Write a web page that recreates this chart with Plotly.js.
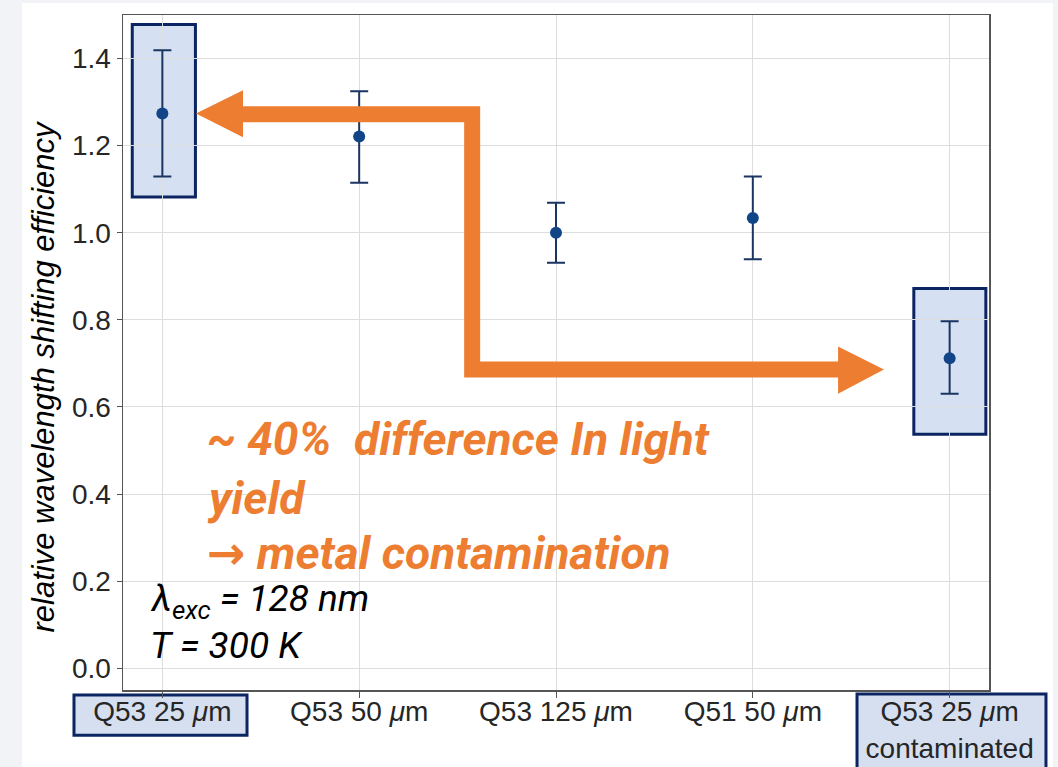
<!DOCTYPE html>
<html>
<head>
<meta charset="utf-8">
<script src="https://cdn.plot.ly/plotly-3.0.1.min.js"></script>
<style>
  html, body { margin: 0; padding: 0; background: #f1f3f6; width: 1058px; height: 767px; overflow: hidden; }
  #chart { position: absolute; left: 22px; top: 3px; width: 1031px; height: 764px; background: #ffffff; }
</style>
</head>
<body>
<div id="chart"></div>
<script>
// Samples and their measured relative WLS efficiency
const categories = ['Q53 25 μm', 'Q53 50 μm', 'Q53 125 μm', 'Q51 50 μm', 'Q53 25 μm contaminated'];
const tickLabels = ['Q53 25 <i>μ</i>m', 'Q53 50 <i>μ</i>m', 'Q53 125 <i>μ</i>m', 'Q51 50 <i>μ</i>m', 'Q53 25 <i>μ</i>m<br>contaminated'];
const efficiency = [1.274, 1.221, 1.000, 1.034, 0.712];
const upperBound = [1.419, 1.325, 1.069, 1.129, 0.797];
const lowerBound = [1.129, 1.115, 0.931, 0.939, 0.630];
const yTicks = [0.0, 0.2, 0.4, 0.6, 0.8, 1.0, 1.2, 1.4];

const errPlus = upperBound.map((u, i) => u - efficiency[i]);
const errMinus = lowerBound.map((l, i) => efficiency[i] - l);

const navy = '#0b2462';
const boxFill = 'rgba(190,208,235,0.65)';
const orange = '#ED7D31';

const trace = {
  type: 'scatter',
  mode: 'markers',
  x: categories,
  y: efficiency,
  marker: { color: '#114588', size: 12 },
  error_y: {
    type: 'data', symmetric: false,
    array: errPlus, arrayminus: errMinus,
    color: '#1b3563', thickness: 2, width: 9
  },
  hoverinfo: 'x+y'
};

const shapes = [
  // highlight boxes around the reference and contaminated samples
  { type: 'rect', xref: 'x', yref: 'y', x0: -0.153, x1: 0.168, y0: 1.082, y1: 1.478,
    fillcolor: boxFill, line: { color: navy, width: 3 }, layer: 'below' },
  { type: 'rect', xref: 'x', yref: 'y', x0: 3.818, x1: 4.184, y0: 0.537, y1: 0.872,
    fillcolor: boxFill, line: { color: navy, width: 3 }, layer: 'below' },
  // boxes behind the matching tick labels
  { type: 'rect', xref: 'paper', yref: 'paper', x0: -0.0566, x1: 0.1432, y0: -0.0670, y1: -0.0074,
    fillcolor: '#d5dff0', line: { color: navy, width: 3 }, layer: 'below' },
  { type: 'rect', xref: 'paper', yref: 'paper', x0: 0.8476, x1: 1.0658, y0: -0.13, y1: -0.0060,
    fillcolor: '#d5dff0', line: { color: navy, width: 3 }, layer: 'below' },
  // orange connector arrow
  { type: 'path', xref: 'x', yref: 'y', layer: 'above',
    path: 'M 0.40 1.272 L 1.574 1.272 L 1.574 0.686 L 3.445 0.686',
    line: { color: orange, width: 16 } },
  { type: 'path', xref: 'x', yref: 'y', layer: 'above',
    path: 'M 0.1707 1.274 L 0.4096 1.327 L 0.4096 1.219 Z',
    fillcolor: orange, line: { width: 0 } },
  { type: 'path', xref: 'x', yref: 'y', layer: 'above',
    path: 'M 3.666 0.686 L 3.433 0.739 L 3.433 0.630 Z',
    fillcolor: orange, line: { width: 0 } }
];

const orangeFont = { family: 'Roboto, sans-serif', size: 46, color: orange, style: 'italic', weight: 700 };
const noteFont = { family: 'Roboto, Arial, sans-serif', size: 37, color: '#000000', style: 'italic' };

const annotations = [
  { xref: 'paper', yref: 'paper', x: 0.0947, y: 0.372, xanchor: 'left', yanchor: 'middle',
    text: '~ 40%&nbsp; difference In light', showarrow: false, font: orangeFont },
  { xref: 'paper', yref: 'paper', x: 0.0947, y: 0.284, xanchor: 'left', yanchor: 'middle',
    text: 'yield', showarrow: false, font: orangeFont },
  { xref: 'paper', yref: 'paper', x: 0.0947, y: 0.2024, xanchor: 'left', yanchor: 'middle',
    text: '<span style="font-family:DejaVu Sans;font-style:normal">→</span> metal contamination',
    showarrow: false, font: orangeFont },
  { xref: 'paper', yref: 'paper', x: 0.0289, y: 0.1324, xanchor: 'left', yanchor: 'middle',
    text: 'λ<sub>exc</sub> = 128 nm', showarrow: false, font: noteFont },
  { xref: 'paper', yref: 'paper', x: 0.0289, y: 0.0655, xanchor: 'left', yanchor: 'middle',
    text: 'T = 300 K', showarrow: false, font: noteFont },
  // y-axis label, set slightly below the axis centre
  { xref: 'paper', yref: 'paper', x: -0.092, y: 0.465, xanchor: 'center', yanchor: 'middle',
    textangle: -90, text: 'relative wavelength shifting efficiency', showarrow: false,
    font: { family: 'Liberation Sans, Arial, sans-serif', size: 31, color: '#000000', style: 'italic' } }
];

const layout = {
  width: 1031, height: 764,
  margin: { l: 101, r: 64, t: 12, b: 77 },
  paper_bgcolor: '#ffffff',
  plot_bgcolor: '#ffffff',
  showlegend: false,
  font: { family: 'Liberation Sans, Arial, sans-serif', color: '#262626' },
  xaxis: {
    type: 'category',
    range: [-0.2, 4.2],
    tickvals: categories, ticktext: tickLabels,
    tickfont: { size: 28, color: '#262626' },
    ticks: 'outside', ticklen: 6, tickcolor: '#555555',
    ticklabelstandoff: -10,
    showline: true, linecolor: '#555555', linewidth: 1.5, mirror: true,
    showgrid: true, gridcolor: '#dddddd', gridwidth: 1,
    zeroline: false, fixedrange: true
  },
  yaxis: {
    range: [-0.05, 1.5],
    tickvals: yTicks, ticktext: yTicks.map(v => v.toFixed(1)),
    tickfont: { size: 28, color: '#262626' },
    ticks: 'outside', ticklen: 5, tickcolor: '#555555',
    showline: true, linecolor: '#555555', linewidth: 1.5, mirror: true,
    showgrid: true, gridcolor: '#dddddd', gridwidth: 1,
    zeroline: false, fixedrange: true
  },
  shapes: shapes,
  annotations: annotations
};

Plotly.newPlot('chart', [trace], layout, { displayModeBar: false, staticPlot: true });
</script>
</body>
</html>
